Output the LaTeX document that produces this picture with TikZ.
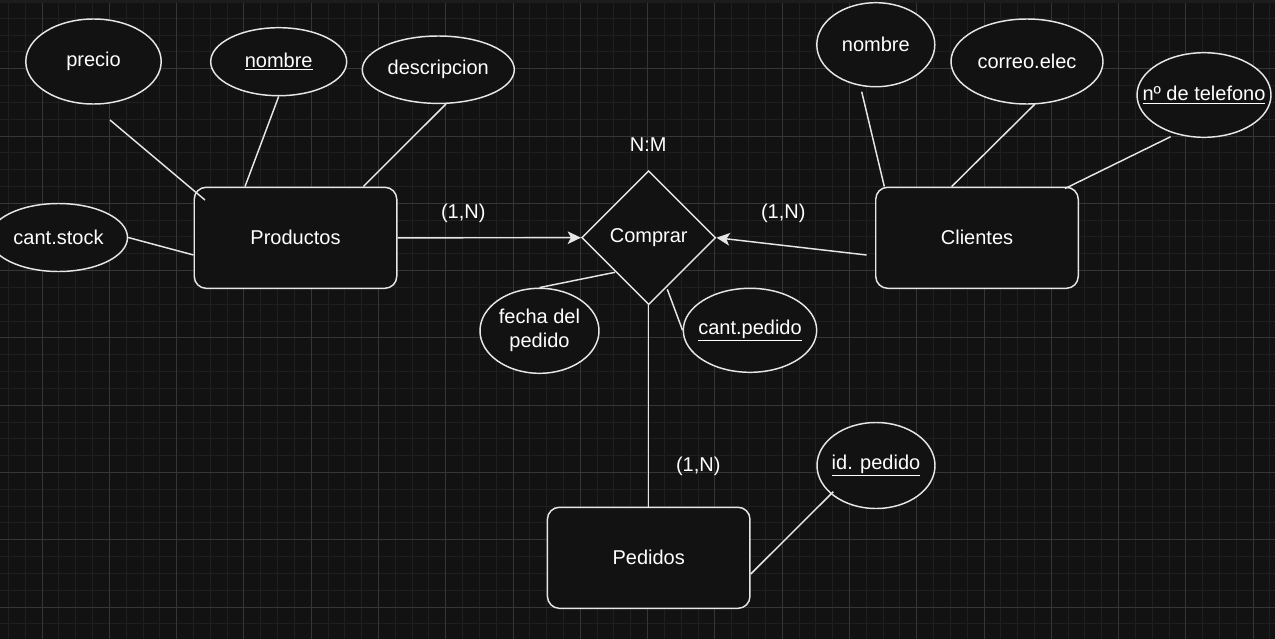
\documentclass[tikz,border=0pt]{standalone}
\usepackage{fontspec}
\setmainfont{Liberation Sans}
\usetikzlibrary{shapes.geometric,arrows.meta,calc}
\definecolor{bg}{HTML}{121212}
\definecolor{topband}{HTML}{1C1C1C}
\definecolor{gmin}{HTML}{1F1F1F}
\definecolor{gmaj}{HTML}{363636}
\definecolor{ink}{HTML}{E6E6E6}
\begin{document}
\begin{tikzpicture}[x=0.75pt,y=-0.75pt,
  font=\fontsize{15}{18}\selectfont, text=white,
  ent/.style={draw=ink, fill=bg, line width=1.1pt, rounded corners=9pt,
    minimum width=151.9pt, minimum height=75.8pt, inner sep=0pt},
  attr/.style n args={2}{draw=ink, fill=bg, line width=1.1pt, ellipse,
    inner sep=0pt, minimum width=#1*0.75pt, minimum height=#2*0.75pt},
  rel/.style={draw=ink, fill=bg, line width=1.1pt, diamond, inner sep=0pt,
    minimum width=100.5pt, minimum height=100.5pt},
  lbl/.style={inner sep=0pt, text=white, align=center},
  link/.style={draw=ink, line width=1.1pt},
  arr/.style={link, -{Stealth[length=10pt,width=9.5pt,inset=2.5pt]}}]

% background and grid
\useasboundingbox (0,0) rectangle (1275,639);
\fill[bg] (0,0) rectangle (1275,639);
\foreach \i in {-2,...,73}
  \draw[gmin, line width=0.75pt] ({42.1+16.82*\i},0) -- ({42.1+16.82*\i},639);
\foreach \j in {0,...,37}
  \draw[gmin, line width=0.75pt] (0,{1.5+16.82*\j}) -- (1275,{1.5+16.82*\j});
\foreach \i in {0,...,18}
  \draw[gmaj, line width=0.75pt] ({42.1+67.28*\i},0) -- ({42.1+67.28*\i},639);
\foreach \j in {0,...,9}
  \draw[gmaj, line width=0.75pt] (0,{1.5+67.28*\j}) -- (1275,{1.5+67.28*\j});
\fill[topband] (0,0) rectangle (1275,3);

% entities
\node[ent] (prod) at (295.5,237.8) {Productos};
\node[ent] (cli)  at (977,237.8) {Clientes};
\node[ent] (ped)  at (648.7,557.8) {Pedidos};

% relationship
\node[rel] (comp) at (648.7,237.7) {\makebox[0pt]{Comprar}};

% attributes
\node[attr={135.4}{85},   label={[lbl]center:precio}] (precio) at (93.5,61.5) {};
\node[attr={136}{68},     label={[lbl]center:\underline{nombre}}] (nomP) at (278.7,61.7) {};
\node[attr={152}{67.4},   label={[lbl]center:descripcion}] (desc) at (438.3,69.7) {};
\node[attr={138}{68},     label={[lbl]center:cant.stock}] (stock) at (58.5,237.5) {};
\node[attr={119}{85},     label={[lbl]center:fecha del\\pedido}] (fecha) at (539.5,330.8) {};
\node[attr={133.4}{84},   label={[lbl]center:\underline{cant.pedido}}] (cantp) at (750,330.3) {};
\node[attr={118}{86},     label={[lbl]center:\underline{id. pedido}}] (idp) at (876,465.5) {};
\node[attr={118}{84},     label={[lbl]center:nombre}] (nomC) at (875.8,44.7) {};
\node[attr={152}{85},     label={[lbl]center:correo.elec}] (correo) at (1027,61.5) {};
\node[attr={134}{84.6},   label={[lbl]center:\underline{nº de telefono}}] (tel) at (1204,95) {};

% cardinality labels
\node[lbl] (nm) at (648.3,145) {N:M};
\node[lbl] (c1) at (463.3,213.3) {(1,N)};
\node[lbl] (c2) at (783.3,213.3) {(1,N)};
\node[lbl] (c3) at (698.3,466) {(1,N)};

% connectors
\draw[link] ($(precio.center)+(16.5,58.5)$) -- ($(prod.center)+(-90.5,-37.8)$);
\draw[link] (nomP.south) -- ($(prod.north)+(-50.5,0)$);
\draw[link] ($(desc.center)+(7.7,34.3)$) -- ($(prod.north)+(67.8,0)$);
\draw[link] (stock.east) -- ($(prod.west)+(0,17.2)$);
\draw[arr] (prod.east) -- (comp.west);
\draw[arr] ($(cli.west)+(-8.4,17.2)$) -- (comp.east);
\draw[link] (fecha.north) -- ($(comp.center)+(-33.7,34.6)$);
\draw[link] ($(comp.center)+(18.6,51.6)$) -- (cantp.west);
\draw[link] (comp.south) -- (ped.north);
\draw[link] ($(idp.center)+(-42.7,26.2)$) -- ($(ped.east)+(0,16.2)$);
\draw[link] ($(nomC.center)+(-14.1,47)$) -- ($(cli.north)+(-92.7,0)$);
\draw[link] ($(correo.center)+(8,42.5)$) -- ($(cli.north)+(-25.3,0)$);
\draw[link] ($(tel.center)+(-33.3,41.7)$) -- ($(cli.north)+(88,2)$);
\end{tikzpicture}
\end{document}
